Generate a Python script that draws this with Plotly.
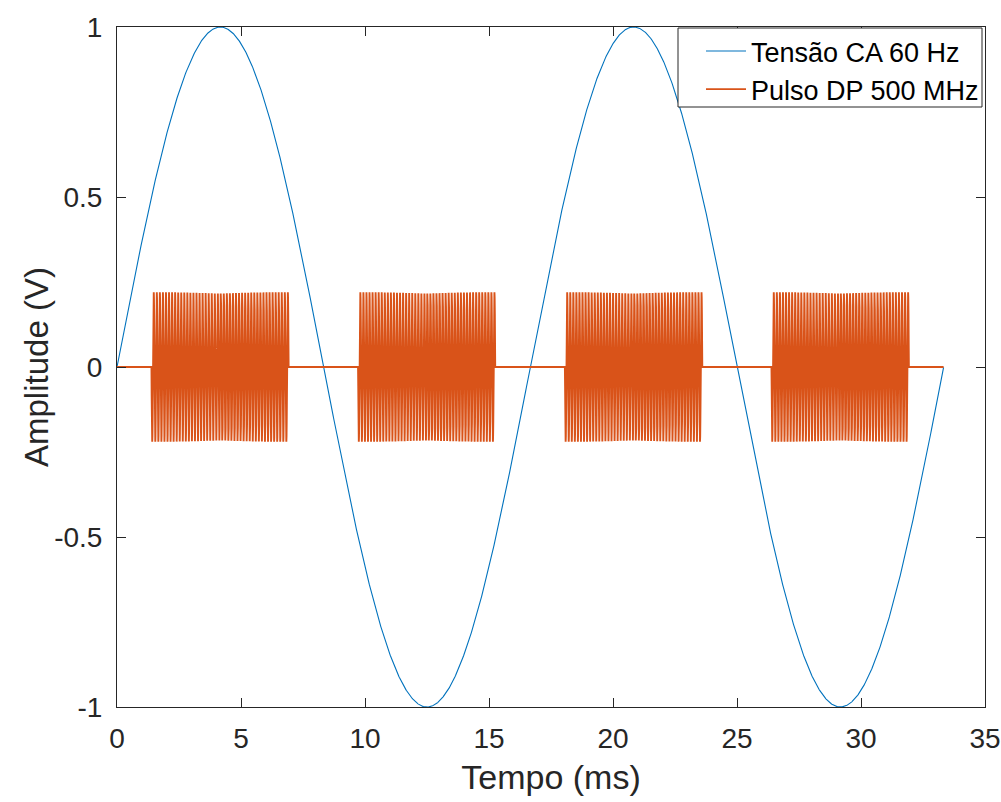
import numpy as np
import plotly.graph_objects as go

# --- values ---
series_names = ["Tensão CA 60 Hz", "Pulso DP 500 MHz"]
ac_frequency_hz = [60]            # from legend
ac_amplitude_v = [1.0]            # peak of blue curve
record_length_ms = [33.33]        # both traces end here (two 60 Hz cycles)
burst_start_ms = [1.39, 9.72, 18.06, 26.39]
burst_end_ms = [6.92, 15.25, 23.60, 31.93]
burst_amplitude_v = [0.22]
burst_visible_cycles = [45]       # stripes counted per burst
x_ticks = [0, 5, 10, 15, 20, 25, 30, 35]
y_ticks = [-1, -0.5, 0, 0.5, 1]
y_tick_text = ["-1", "-0.5", "0", "0.5", "1"]
x_title = "Tempo (ms)"
y_title = "Amplitude (V)"

# --- build traces ---
t_ac = np.linspace(0, record_length_ms[0], 2000)
v_ac = ac_amplitude_v[0] * np.sin(2 * np.pi * ac_frequency_hz[0] * t_ac / 1000.0)

t_pd = [0.0]
v_pd = [0.0]
for s, e in zip(burst_start_ms, burst_end_ms):
    n = burst_visible_cycles[0] * 16
    tt = np.linspace(s, e, n)
    vv = burst_amplitude_v[0] * np.sin(2 * np.pi * burst_visible_cycles[0] * (tt - s) / (e - s) + np.pi)
    t_pd += [s] + list(tt) + [e]
    v_pd += [0.0] + list(vv) + [0.0]
t_pd.append(record_length_ms[0])
v_pd.append(0.0)

fig = go.Figure()
fig.add_trace(go.Scatter(x=t_ac, y=v_ac, mode="lines", name=series_names[0],
                         line=dict(color="#0072BD", width=1.1)))
fig.add_trace(go.Scatter(x=t_pd, y=v_pd, mode="lines", name=series_names[1],
                         line=dict(color="#D95319", width=1.9)))

axis_color = "#262626"
font_family = "Liberation Sans, Arial, Helvetica, sans-serif"

# plot area in pixels: left 117, right 985, top 27, bottom 707
L, R, T, B = 117, 985, 27, 707
W, H = R - L, B - T
def px(x):
    return (x - L) / W
def py(y):
    return (B - y) / H

fig.update_layout(
    width=1001, height=802,
    margin=dict(l=L, r=1001 - R, t=T, b=802 - B, autoexpand=False),
    paper_bgcolor="white", plot_bgcolor="white",
    font=dict(family=font_family, color=axis_color, size=28),
    showlegend=True,
    legend=dict(
        x=px(701), y=py(27), xanchor="left", yanchor="top",
        bgcolor="rgba(0,0,0,0)", borderwidth=0,
        font=dict(size=27, color="black"),
        tracegroupgap=0, itemwidth=40,
    ),
    shapes=[dict(type="rect", xref="paper", yref="paper",
                 x0=px(678), x1=px(982), y0=py(107), y1=py(28),
                 line=dict(color=axis_color, width=1), fillcolor="white",
                 layer="above")],
    annotations=[dict(text=y_title, xref="paper", yref="paper",
                      x=px(36), y=0.5, xanchor="center", yanchor="middle",
                      textangle=-90, showarrow=False,
                      font=dict(size=33, color=axis_color))],
)
fig.update_xaxes(
    range=[0, 35], tickvals=x_ticks, ticktext=[str(v) for v in x_ticks],
    ticks="inside", ticklen=9, tickwidth=1, tickcolor=axis_color,
    showline=True, linecolor=axis_color, linewidth=1, mirror="ticks",
    showgrid=False, zeroline=False, ticklabelstandoff=6,
    ticklabeloverflow="allow", automargin=False,
    tickfont=dict(size=28, color=axis_color),
    title=dict(text=x_title, font=dict(size=34, color=axis_color), standoff=12),
)
fig.update_yaxes(
    range=[-1, 1], tickvals=y_ticks, ticktext=y_tick_text,
    ticks="inside", ticklen=9, tickwidth=1, tickcolor=axis_color,
    showline=True, linecolor=axis_color, linewidth=1, mirror="ticks",
    showgrid=False, zeroline=False, ticklabelstandoff=8,
    ticklabeloverflow="allow", automargin=False,
    tickfont=dict(size=28, color=axis_color),
)

fig.write_html("out.html")
